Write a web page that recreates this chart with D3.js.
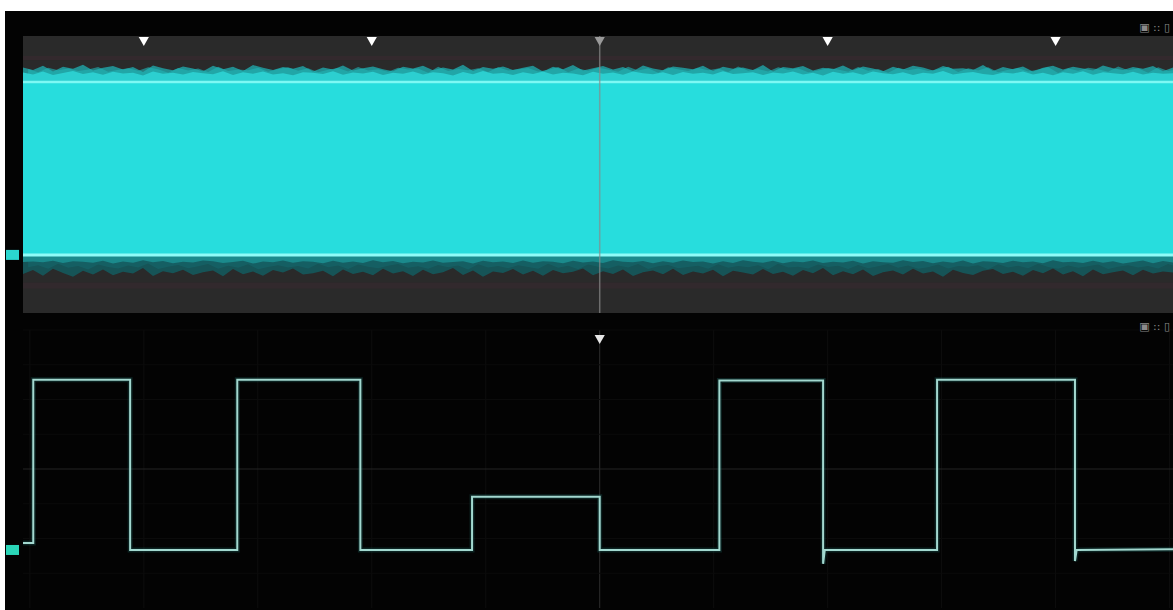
<!DOCTYPE html>
<html><head><meta charset="utf-8">
<script src="https://cdn.jsdelivr.net/npm/d3@7"></script>
<style>html,body{margin:0;padding:0;background:#fff;overflow:hidden}</style>
</head><body>
<script>
// ---------- data ----------
const timeDomain = [-5.06, 5.03];          // horizontal divisions
const voltDomain = [-1.68, 6.33];          // vertical divisions (ground = 0)
const carrierHigh = 5.0;                    // top channel envelope top
const carrierLow = 0.0;                     // top channel envelope bottom
const upperNoise = [0.42,0.35,0.47,0.30,0.44,0.38,0.50,0.33,0.41,0.46,0.36,0.43,0.29,0.48,0.40,0.34,0.45,0.39,0.31,0.47,
0.37,0.44,0.32,0.49,0.41,0.35,0.43,0.38,0.46,0.30,0.42,0.36,0.48,0.33,0.40,0.45,0.37,0.31,0.44,0.39,
0.47,0.34,0.42,0.36,0.50,0.32,0.43,0.38,0.45,0.35,0.41,0.47,0.30,0.44,0.37,0.49,0.33,0.40,0.46,0.36,
0.43,0.31,0.48,0.39,0.34,0.45,0.41,0.37,0.47,0.32,0.44,0.38,0.42,0.35,0.49,0.30,0.43,0.40,0.46,0.33,
0.41,0.37,0.48,0.34,0.45,0.39,0.31,0.44,0.36,0.47,0.42,0.33,0.46,0.38,0.40,0.35,0.49,0.32,0.43,0.37,
0.45,0.30,0.41,0.47,0.36,0.44,0.39,0.33,0.48,0.40,0.35,0.43,0.38,0.46,0.31,0.42];
const lowerNoise = [0.55,0.44,0.60,0.40,0.52,0.63,0.46,0.57,0.42,0.59,0.49,0.54,0.38,0.61,0.47,0.53,0.43,0.58,0.50,0.45,
0.62,0.41,0.56,0.48,0.60,0.44,0.51,0.39,0.57,0.53,0.46,0.62,0.42,0.55,0.49,0.59,0.40,0.54,0.47,0.61,
0.43,0.56,0.50,0.38,0.58,0.45,0.63,0.48,0.52,0.41,0.57,0.46,0.60,0.44,0.53,0.49,0.39,0.59,0.47,0.55,
0.42,0.61,0.50,0.45,0.56,0.40,0.58,0.48,0.54,0.43,0.62,0.46,0.51,0.57,0.41,0.55,0.49,0.60,0.44,0.53,
0.38,0.59,0.47,0.56,0.42,0.61,0.50,0.45,0.57,0.40,0.54,0.48,0.63,0.43,0.52,0.58,0.46,0.41,0.55,0.49,
0.60,0.44,0.53,0.39,0.57,0.47,0.62,0.42,0.56,0.50,0.45,0.59,0.43,0.54,0.48,0.51];
const waveTimes  = [-5.06,-4.97,-4.97,-4.12,-4.12,-3.18,-3.18,-2.10,-2.10,-1.12,-1.12,0.00,0.00,1.05,1.05,1.96,1.96,1.975,2.96,2.96,4.17,4.17,4.185,5.03];
const waveValues = [ 0.20, 0.20, 4.90, 4.90, 0.00, 0.00, 4.90, 4.90, 0.00, 0.00, 1.53,1.53,0.00,0.00,4.88,4.88,-0.40,0.00,0.00,4.90,4.90,-0.32,0.00,0.02];
const triggerMarks = [-4, -2, 0, 2, 4];
const gridTimes = [-5,-4,-3,-2,-1,0,1,2,3,4,5];
const gridVolts = [-1,0,1,2,3,4,5,6];
const statusIcons = "▣ :: ▯";

// ---------- layout ----------
const W = 1173, H = 610;
const L = 23, R = 1173;
const topY0 = 36, topY1 = 313, botY0 = 330, botY1 = 608;

const svg = d3.select("body").append("svg").attr("width", W).attr("height", H)
  .style("display","block").style("font-family","DejaVu Sans, sans-serif");

svg.append("rect").attr("x",0).attr("y",0).attr("width",W).attr("height",H).attr("fill","#ffffff");
svg.append("rect").attr("x",5).attr("y",11).attr("width",W-5).attr("height",H-11).attr("fill","#030303");

const x = d3.scaleLinear().domain(timeDomain).range([L, R]);
const yTop = d3.scaleLinear().domain(voltDomain).range([topY1, topY0]);
const yBot = d3.scaleLinear().domain([-1.67, 6.33]).range([botY1, botY0]);

// ---------- top channel ----------
const gT = svg.append("g");
gT.append("rect").attr("x",L).attr("y",topY0).attr("width",R-L).attr("height",topY1-topY0).attr("fill","#2a2a2a");
gT.append("rect").attr("x",L).attr("y",yTop(carrierHigh+0.75)).attr("width",R-L).attr("height",4).attr("fill","#3a2a30").attr("opacity",0.6);
gT.append("rect").attr("x",L).attr("y",yTop(carrierLow-0.8)).attr("width",R-L).attr("height",6).attr("fill","#3a2830").attr("opacity",0.5);

const nx = d3.scaleLinear().domain([0, upperNoise.length-1]).range(timeDomain);
const nx2 = d3.scaleLinear().domain([0, upperNoise.length-1]).range([timeDomain[0]+0.045, timeDomain[1]+0.045]);
const upArea = d3.area().x((d,i)=>x(nx(i))).y0(yTop(carrierHigh)).y1(d=>yTop(carrierHigh+d));
gT.append("path").datum(upperNoise).attr("d",upArea).attr("fill","#1fa8aa").attr("opacity",0.8);
const upAreaB = d3.area().x((d,i)=>x(nx2(i))).y0(yTop(carrierHigh)).y1(d=>yTop(carrierHigh+d*0.9));
gT.append("path").datum(upperNoise.slice().reverse()).attr("d",upAreaB).attr("fill","#22b6b8").attr("opacity",0.6);
const upArea2 = d3.area().x((d,i)=>x(nx(i))).y0(yTop(carrierHigh)).y1(d=>yTop(carrierHigh+d*0.5));
gT.append("path").datum(lowerNoise).attr("d",upArea2).attr("fill","#2ccfd0");

const lx = d3.scaleLinear().domain([0, lowerNoise.length-1]).range(timeDomain);
const lx2 = d3.scaleLinear().domain([0, lowerNoise.length-1]).range([timeDomain[0]+0.045, timeDomain[1]+0.045]);
const loArea = d3.area().x((d,i)=>x(lx(i))).y0(yTop(carrierLow)).y1(d=>yTop(carrierLow-d));
gT.append("path").datum(lowerNoise).attr("d",loArea).attr("fill","#14595c").attr("opacity",0.9);
const loAreaB = d3.area().x((d,i)=>x(lx2(i))).y0(yTop(carrierLow)).y1(d=>yTop(carrierLow-d*0.85));
gT.append("path").datum(upperNoise).attr("d",loAreaB).attr("fill","#16676a").attr("opacity",0.6);
const loArea2 = d3.area().x((d,i)=>x(lx(i))).y0(yTop(carrierLow)).y1(d=>yTop(carrierLow-d*0.4));
gT.append("path").datum(lowerNoise.slice().reverse()).attr("d",loArea2).attr("fill","#1b8a8c");

gT.append("rect").attr("x",L).attr("y",yTop(carrierHigh)).attr("width",R-L)
  .attr("height",yTop(carrierLow)-yTop(carrierHigh)).attr("fill","#27dddd");
gT.append("line").attr("x1",L).attr("x2",R).attr("y1",yTop(carrierHigh)).attr("y2",yTop(carrierHigh))
  .attr("stroke","#7ef8f4").attr("stroke-width",2.5);
gT.append("line").attr("x1",L).attr("x2",R).attr("y1",yTop(carrierLow)).attr("y2",yTop(carrierLow))
  .attr("stroke","#8ffcf8").attr("stroke-width",3);
gT.append("line").attr("x1",x(0)).attr("x2",x(0)).attr("y1",topY0).attr("y2",topY1)
  .attr("stroke","#8a8a8a").attr("stroke-width",1.5).attr("opacity",0.7);

const tri = d3.symbol().type(d3.symbolTriangle).size(45);
gT.selectAll("path.mk").data(triggerMarks).join("path").attr("class","mk")
  .attr("d",tri).attr("transform",d=>`translate(${x(d)},${40}) rotate(180)`)
  .attr("fill",d=>d===0?"#9a9a9a":"#ffffff");

svg.append("rect").attr("x",6).attr("y",yTop(0)-5).attr("width",13).attr("height",10).attr("fill","#2bd6cf");
svg.append("text").attr("x",1170).attr("y",31).attr("text-anchor","end").attr("font-size",11)
  .attr("fill","#8a8a8a").text(statusIcons);

// ---------- bottom channel ----------
const gB = svg.append("g");
gB.selectAll("line.vg").data(gridTimes).join("line").attr("class","vg")
  .attr("x1",d=>x(d)).attr("x2",d=>x(d)).attr("y1",botY0).attr("y2",botY1)
  .attr("stroke",d=>d===0?"#2e2e2e":"#0e0e0e").attr("stroke-width",1);
gB.selectAll("line.hg").data(gridVolts).join("line").attr("class","hg")
  .attr("x1",L).attr("x2",R).attr("y1",d=>yBot(d+0.33)).attr("y2",d=>yBot(d+0.33))
  .attr("stroke",d=>d===2?"#252525":"#0b0b0b").attr("stroke-width",1);

const line = d3.line().x(d=>x(d[0])).y(d=>yBot(d[1]));
const pts = waveTimes.map((t,i)=>[t, waveValues[i]]);
gB.append("path").datum(pts).attr("d",line).attr("fill","none").attr("stroke","#1f6b66")
  .attr("stroke-width",5).attr("opacity",0.3);
gB.append("path").datum(pts).attr("d",line).attr("fill","none").attr("stroke","#a2d8cf")
  .attr("stroke-width",2);

gB.append("path").attr("d",tri).attr("transform",`translate(${x(0)},${338}) rotate(180)`).attr("fill","#e6e6e6");
svg.append("rect").attr("x",6).attr("y",yBot(0)-5).attr("width",13).attr("height",10).attr("fill","#2bd6b8");
svg.append("text").attr("x",1170).attr("y",330).attr("text-anchor","end").attr("font-size",11)
  .attr("fill","#8a8a8a").text(statusIcons);
</script>
</body></html>
